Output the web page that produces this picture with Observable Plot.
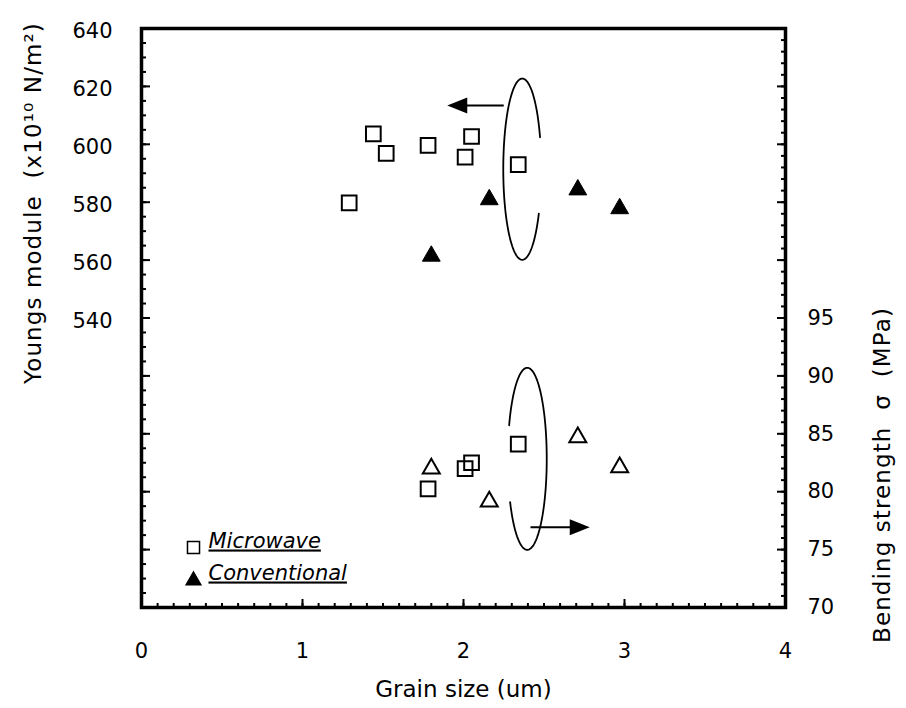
<!DOCTYPE html>
<html>
<head>
<meta charset="utf-8">
<script src="https://cdn.jsdelivr.net/npm/d3@7"></script>
<script src="https://cdn.jsdelivr.net/npm/@observablehq/plot@0.6"></script>
<style>
  body { margin: 0; background: #fff; }
  #chart { position: relative; width: 906px; height: 708px; }
</style>
</head>
<body>
<div id="chart"></div>
<script>
// ---- data ----
const youngMicrowaveX = [1.29, 1.44, 1.52, 1.78, 2.01, 2.05, 2.34];
const youngMicrowave  = [579.8, 603.6, 596.9, 599.6, 595.6, 602.7, 593.0];
const youngConvX = [1.80, 2.16, 2.71, 2.97];
const youngConv  = [561.4, 580.9, 584.3, 577.8];
const bendMicrowaveX = [1.78, 2.01, 2.05, 2.34];
const bendMicrowave  = [80.25, 82.0, 82.5, 84.1];
const bendConvX = [1.80, 2.16, 2.71, 2.97];
const bendConv  = [82.0, 79.15, 84.7, 82.1];

const xTicks = [0, 1, 2, 3, 4];
const leftTicks = [540, 560, 580, 600, 620, 640];
const rightTicks = [70, 75, 80, 85, 90, 95];
const seriesNames = ["Microwave", "Conventional"];

// right axis (MPa) mapped onto left scale (440..640 <-> 70..120)
const toLeft = v => 440 + (v - 70) * 4;
const fromLeft = u => (u - 440) / 4 + 70;

const young = [
  ...youngMicrowaveX.map((x, i) => ({x, y: youngMicrowave[i], s: "m"})),
  ...youngConvX.map((x, i) => ({x, y: youngConv[i], s: "c"}))
];
const bend = [
  ...bendMicrowaveX.map((x, i) => ({x, y: toLeft(bendMicrowave[i]), s: "m"})),
  ...bendConvX.map((x, i) => ({x, y: toLeft(bendConv[i]), s: "c"}))
];

// annotation ellipses (data units) : [cx, cy, rx, ry, startDeg, endDeg]
const ellipseUpper = [2.365, 591.4, 0.118, 31.3, 20.6, 331.4];
const ellipseLower = [2.396, toLeft(82.84), 0.121, 7.86 * 4, 208.4, 518.5];
function arc([cx, cy, rx, ry, a0, a1]) {
  return d3.range(a0, a1 + 0.01, 2).map(a => {
    const t = a * Math.PI / 180;
    return {x: cx + rx * Math.cos(t), y: cy + ry * Math.sin(t)};
  });
}
// arrows: [xStart, xHeadCenter, y, rotateDeg]
const arrowUpper = [2.25, 1.961, 613.4, 180];
const arrowLower = [2.416, 2.722, toLeft(76.93), 0];

const head = {
  draw(ctx, size) {
    const r = Math.sqrt(size / Math.PI);
    ctx.moveTo(r, 0);
    ctx.lineTo(-r, -0.8 * r);
    ctx.lineTo(-r, 0.8 * r);
    ctx.closePath();
  }
};

const font = "'DejaVu Sans', 'Liberation Sans', Arial, sans-serif";

const plot = Plot.plot({
  width: 906,
  height: 708,
  marginLeft: 141,
  marginRight: 121,
  marginTop: 28,
  marginBottom: 101,
  style: {fontFamily: font, background: "#fff", color: "#000", overflow: "visible"},
  x: {domain: [0, 4], axis: null},
  y: {domain: [440, 640], axis: null},
  marks: [
    // bottom axis
    Plot.axisX({anchor: "bottom", label: null, ticks: d3.range(0, 4.001, 0.1), tickSize: -4, tickFormat: () => "", strokeWidth: 2}),
    Plot.axisX({anchor: "bottom", label: null, ticks: [1, 2, 3], tickSize: -8, tickFormat: () => "", strokeWidth: 2}),
    Plot.axisX({anchor: "bottom", label: null, ticks: xTicks, tickSize: 0, tickPadding: 36, fontSize: 21, tickFormat: d3.format("d")}),
    // left axis
    Plot.axisY({anchor: "left", label: null, ticks: d3.range(440, 640.1, 5), tickSize: -5, tickFormat: () => "", strokeWidth: 2}),
    Plot.axisY({anchor: "left", label: null, ticks: d3.range(460, 640.1, 20), tickSize: -9, tickFormat: () => "", strokeWidth: 2}),
    Plot.axisY({anchor: "left", label: null, ticks: leftTicks, tickSize: 0, tickPadding: 29, dy: 3, fontSize: 21, tickFormat: d3.format("d")}),
    // right axis
    Plot.axisY({anchor: "right", label: null, ticks: d3.range(70, 120.1, 1).map(toLeft), tickSize: -5, tickFormat: () => "", strokeWidth: 2}),
    Plot.axisY({anchor: "right", label: null, ticks: d3.range(70, 120.1, 5).map(toLeft), tickSize: -9, tickFormat: () => "", strokeWidth: 2}),
    Plot.axisY({anchor: "right", label: null, ticks: rightTicks.map(toLeft), tickSize: 0, tickPadding: 22, fontSize: 21, tickFormat: u => d3.format("d")(fromLeft(u))}),
    Plot.frame({stroke: "#000", strokeWidth: 3.5}),
    // titles
    Plot.text(["Grain size (um)"], {frameAnchor: "bottom", dy: 89, fontSize: 23, textAnchor: "middle"}),
    Plot.text(["Youngs module  (x10¹⁰ N/m²)"], {frameAnchor: "left", dx: -108, dy: -115, rotate: -90, fontSize: 23, textAnchor: "middle"}),
    Plot.text(["Bending strength  σ  (MPa)"], {frameAnchor: "right", dx: 97, dy: 157, rotate: -90, fontSize: 23, textAnchor: "middle"}),
    // annotations
    Plot.line(arc(ellipseUpper), {x: "x", y: "y", stroke: "#000", strokeWidth: 1.8}),
    Plot.line(arc(ellipseLower), {x: "x", y: "y", stroke: "#000", strokeWidth: 1.8}),
    Plot.link([arrowUpper, arrowLower], {x1: d => d[0], x2: d => d[1], y1: d => d[2], y2: d => d[2], stroke: "#000", strokeWidth: 1.8}),
    Plot.dot([arrowUpper, arrowLower], {x: d => d[1], y: d => d[2], symbol: head, r: 10, fill: "#000", stroke: "none", rotate: d => d[3]}),
    // data
    Plot.dot(young.filter(d => d.s === "m"), {x: "x", y: "y", symbol: "square", r: 8.3, stroke: "#000", strokeWidth: 2, fill: "#fff"}),
    Plot.dot(young.filter(d => d.s === "c"), {x: "x", y: "y", symbol: "triangle", r: 6.6, fill: "#000", stroke: "#000", strokeWidth: 1}),
    Plot.dot(bend.filter(d => d.s === "m"), {x: "x", y: "y", symbol: "square", r: 8.3, stroke: "#000", strokeWidth: 2, fill: "none"}),
    Plot.dot(bend.filter(d => d.s === "c"), {x: "x", y: "y", symbol: "triangle", r: 6.3, fill: "none", stroke: "#000", strokeWidth: 2}),
    // legend
    Plot.dot([seriesNames[0]], {frameAnchor: "bottom-left", dx: 52, dy: -60, symbol: "square", r: 6.8, stroke: "#000", strokeWidth: 1.5, fill: "#fff"}),
    Plot.dot([seriesNames[1]], {frameAnchor: "bottom-left", dx: 52, dy: -27, symbol: "triangle", r: 5.4, fill: "#000", stroke: "#000"}),
    Plot.text([seriesNames[0]], {frameAnchor: "bottom-left", dx: 67, dy: -60, fontSize: 21, fontStyle: "italic", textAnchor: "start"}),
    Plot.text([seriesNames[1]], {frameAnchor: "bottom-left", dx: 67, dy: -28, fontSize: 21, fontStyle: "italic", textAnchor: "start"})
  ]
});

const svg = d3.select(plot);
svg.selectAll("text").filter(function() {
  return seriesNames.includes(this.textContent);
}).attr("text-decoration", "underline");
svg.selectAll("text").filter(function() {
  return /Youngs|Bending/.test(this.textContent);
}).style("letter-spacing", "1.1px");

document.getElementById("chart").appendChild(plot);
</script>
</body>
</html>
